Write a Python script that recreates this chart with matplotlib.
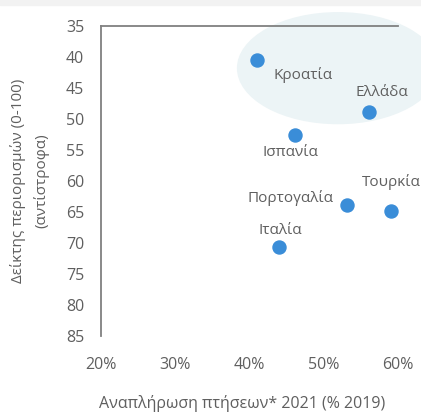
import matplotlib.pyplot as plt
from matplotlib.patches import Ellipse, Rectangle
from matplotlib.ticker import PercentFormatter

plt.rcParams['font.family'] = ['Open Sans', 'DejaVu Sans']

countries = ["Κροατία", "Ελλάδα", "Ισπανία", "Πορτογαλία", "Τουρκία", "Ιταλία"]
recovery = [0.410, 0.561, 0.461, 0.531, 0.591, 0.440]   # flights 2021 as share of 2019
restrictions = [40.5, 48.9, 52.5, 63.9, 64.8, 70.7]      # stringency index (0-100)

# label centre offsets from the point, in pixels (dx right, dy up)
label_off = {
    "Κροατία":    (46, -15),
    "Ελλάδα":     (13, 20),
    "Ισπανία":    (-4, -18),
    "Πορτογαλία": (-56, 7),
    "Τουρκία":    (0, 29),
    "Ιταλία":     (1, 17),
}

GREY = "#5f5f5f"

fig = plt.figure(figsize=(4.21, 4.12), dpi=100)
fig.patches.append(Rectangle((0, 1 - 5 / 412), 1, 5 / 412, transform=fig.transFigure,
                             color="#f2f2f2", zorder=0))
ax = fig.add_axes([101 / 421, 1 - 336 / 412, 297 / 421, 310 / 412])

# highlighted cluster
ax.add_patch(Ellipse((0.519, 41.8), 0.272, 18.1, facecolor="#ecf4f6",
                     edgecolor="none", zorder=0, clip_on=False))

ax.scatter(recovery, restrictions, s=88, color="#3a8dd8", zorder=3, clip_on=False)
for name, x, y in zip(countries, recovery, restrictions):
    dx, dy = label_off[name]
    ax.annotate(name, (x, y), xytext=(dx * 0.72, dy * 0.72), textcoords="offset points",
                ha="center", va="center", fontsize=11, color=GREY)

ax.set_xlim(0.2, 0.6)
ax.set_ylim(85, 35)
ax.set_xticks([0.2, 0.3, 0.4, 0.5, 0.6])
ax.set_yticks(range(35, 90, 5))
ax.xaxis.set_major_formatter(PercentFormatter(1.0, decimals=0))
ax.tick_params(length=0, labelsize=11.5, colors=GREY)
ax.tick_params(axis="x", pad=15)
ax.tick_params(axis="y", pad=12)

for side in ["right", "bottom"]:
    ax.spines[side].set_visible(False)
for side in ["left", "top"]:
    ax.spines[side].set_color("#808080")
    ax.spines[side].set_linewidth(1.3)
ax.patch.set_alpha(0)

ax.set_xlabel("Αναπλήρωση πτήσεων* 2021 (% 2019)", fontsize=11.5, color=GREY, labelpad=16)
ax.xaxis.label.set_x(0.475)
ax.set_ylabel("Δείκτης περιορισμών (0-100)\n(αντίστροφα)", fontsize=11, color=GREY,
              labelpad=12, linespacing=1.6)

fig.savefig("out.png", dpi=100)
